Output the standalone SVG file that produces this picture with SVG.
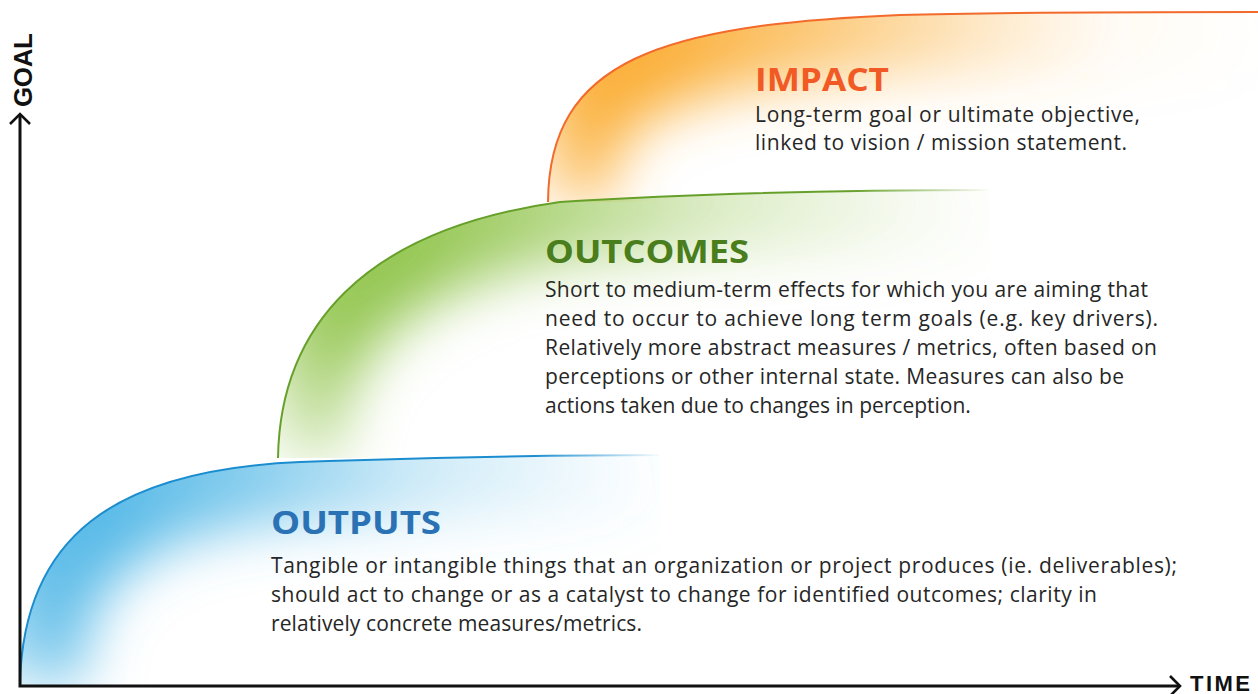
<svg xmlns="http://www.w3.org/2000/svg" width="1258" height="694" viewBox="0 0 1258 694">
  <style>
    .head { font-family: "Open Sans", Lato, "Liberation Sans", sans-serif; font-weight: 700; font-size: 33px; }
    .body { font-family: "Open Sans", Lato, "Liberation Sans", sans-serif; font-size: 21px; fill: #262626; }
    .axis-label { font-family: "Liberation Sans", Arial, sans-serif; font-weight: 700; fill: #111; }
    .axis { fill: none; stroke: #111; stroke-width: 3; }
    .glow { fill: none; stroke-width: 120; filter: url(#soft); }
  </style>
  <defs>
    <filter id="soft" filterUnits="userSpaceOnUse" x="-100" y="-100" width="1458" height="894">
      <feGaussianBlur stdDeviation="28"/>
    </filter>

    <!-- glow strength along each curve: faint at the foot, strongest at the bend, gone at the far end -->
    <linearGradient id="glowBlue" gradientUnits="userSpaceOnUse" x1="20" y1="682" x2="660" y2="455">
      <stop offset="0" stop-color="#56b9e7" stop-opacity="0.35"/>
      <stop offset="0.06" stop-color="#56b9e7" stop-opacity="0.9"/>
      <stop offset="0.2" stop-color="#56b9e7" stop-opacity="1"/>
      <stop offset="0.4" stop-color="#56b9e7" stop-opacity="0.75"/>
      <stop offset="0.65" stop-color="#56b9e7" stop-opacity="0.3"/>
      <stop offset="0.9" stop-color="#56b9e7" stop-opacity="0.08"/>
      <stop offset="1" stop-color="#56b9e7" stop-opacity="0"/>
    </linearGradient>
    <linearGradient id="glowGreen" gradientUnits="userSpaceOnUse" x1="278" y1="458" x2="990" y2="190">
      <stop offset="0" stop-color="#94c651" stop-opacity="0.05"/>
      <stop offset="0.05" stop-color="#94c651" stop-opacity="0.5"/>
      <stop offset="0.12" stop-color="#94c651" stop-opacity="0.95"/>
      <stop offset="0.25" stop-color="#94c651" stop-opacity="1"/>
      <stop offset="0.4" stop-color="#94c651" stop-opacity="0.8"/>
      <stop offset="0.64" stop-color="#94c651" stop-opacity="0.35"/>
      <stop offset="0.9" stop-color="#94c651" stop-opacity="0.08"/>
      <stop offset="1" stop-color="#94c651" stop-opacity="0"/>
    </linearGradient>
    <linearGradient id="glowOrange" gradientUnits="userSpaceOnUse" x1="548" y1="202" x2="1258" y2="12">
      <stop offset="0" stop-color="#fbb03b" stop-opacity="0.1"/>
      <stop offset="0.03" stop-color="#fbb03b" stop-opacity="0.6"/>
      <stop offset="0.08" stop-color="#fbb03b" stop-opacity="1"/>
      <stop offset="0.2" stop-color="#fbb03b" stop-opacity="1"/>
      <stop offset="0.4" stop-color="#fbb03b" stop-opacity="0.7"/>
      <stop offset="0.66" stop-color="#fbb03b" stop-opacity="0.25"/>
      <stop offset="0.8" stop-color="#fbb03b" stop-opacity="0.05"/>
      <stop offset="1" stop-color="#fbb03b" stop-opacity="0"/>
    </linearGradient>

    <!-- curve strokes -->
    <linearGradient id="strokeBlue" gradientUnits="userSpaceOnUse" x1="20" y1="0" x2="662" y2="0">
      <stop offset="0.8" stop-color="#1b8dcf" stop-opacity="1"/>
      <stop offset="1" stop-color="#1b8dcf" stop-opacity="0"/>
    </linearGradient>
    <linearGradient id="strokeGreen" gradientUnits="userSpaceOnUse" x1="278" y1="0" x2="992" y2="0">
      <stop offset="0.8" stop-color="#66a02a" stop-opacity="1"/>
      <stop offset="1" stop-color="#66a02a" stop-opacity="0"/>
    </linearGradient>

    <!-- areas under each curve -->
    <clipPath id="clipOrange">
      <path d="M548,202 C549,60 660,25 900,15 C1000,12 1150,12 1258,12 L1258,202 Z"/>
    </clipPath>
    <clipPath id="clipGreen">
      <path d="M278,458 C280,330 360,230 560,202 C700,193 850,190 990,190 L990,458 Z"/>
    </clipPath>
    <clipPath id="clipBlue">
      <path d="M20,682 C24,540 110,470 300,462 C420,458 560,455 660,455 L660,686 L20,686 Z"/>
    </clipPath>

    <marker id="chevron" viewBox="0 0 13 22" refX="11" refY="11" markerWidth="13" markerHeight="22"
            markerUnits="userSpaceOnUse" orient="auto-start-reverse">
      <path d="M1,1 L11,11 L1,21" fill="none" stroke="#111" stroke-width="2.6"/>
    </marker>
  </defs>

  <rect x="0" y="0" width="1258" height="694" fill="#fff"/>

  <!-- IMPACT -->
  <g id="impact">
    <g clip-path="url(#clipOrange)">
      <path class="glow" d="M548,202 C549,60 660,25 900,15 C1000,12 1150,12 1258,12" stroke="url(#glowOrange)"/>
    </g>
    <path d="M548,202 C549,60 660,25 900,15 C1000,12 1150,12 1258,12"
          fill="none" stroke="#f26a2c" stroke-width="2"/>
    <text class="head" x="755" y="91" fill="#f15a24" textLength="134" lengthAdjust="spacingAndGlyphs">IMPACT</text>
    <text class="body" x="755" y="122" textLength="385">Long-term goal or ultimate objective,</text>
    <text class="body" x="755" y="150" textLength="372">linked to vision / mission statement.</text>
  </g>

  <!-- OUTCOMES -->
  <g id="outcomes">
    <g clip-path="url(#clipGreen)">
      <path class="glow" d="M278,458 C280,330 360,230 560,202 C700,193 850,190 990,190" stroke="url(#glowGreen)"/>
    </g>
    <path d="M278,458 C280,330 360,230 560,202 C700,193 850,190 990,190"
          fill="none" stroke="url(#strokeGreen)" stroke-width="2"/>
    <text class="head" x="545" y="263" fill="#4a7d1b" textLength="204" lengthAdjust="spacingAndGlyphs">OUTCOMES</text>
    <text class="body" x="545" y="297" textLength="603">Short to medium-term effects for which you are aiming that</text>
    <text class="body" x="545" y="326" textLength="613">need to occur to achieve long term goals (e.g. key drivers).</text>
    <text class="body" x="545" y="355" textLength="612">Relatively more abstract measures / metrics, often based on</text>
    <text class="body" x="545" y="384" textLength="579">perceptions or other internal state. Measures can also be</text>
    <text class="body" x="545" y="413">actions taken due to changes in perception.</text>
  </g>

  <!-- OUTPUTS -->
  <g id="outputs">
    <g clip-path="url(#clipBlue)">
      <path class="glow" d="M20,682 C24,540 110,470 300,462 C420,458 560,455 660,455" stroke="url(#glowBlue)"/>
    </g>
    <path d="M20,682 C24,540 110,470 300,462 C420,458 560,455 660,455"
          fill="none" stroke="url(#strokeBlue)" stroke-width="2"/>
    <text class="head" x="271" y="534" fill="#2b72b5" textLength="170" lengthAdjust="spacingAndGlyphs">OUTPUTS</text>
    <text class="body" x="271" y="573" textLength="906">Tangible or intangible things that an organization or project produces (ie. deliverables);</text>
    <text class="body" x="271" y="602" textLength="826">should act to change or as a catalyst to change for identified outcomes; clarity in</text>
    <text class="body" x="271" y="631" textLength="371">relatively concrete measures/metrics.</text>
  </g>

  <!-- axes -->
  <g id="connectors">
    <path class="axis" d="M20,114 L20,686 L1180,686" marker-start="url(#chevron)" marker-end="url(#chevron)"/>
  </g>
  <g id="axis-labels">
    <text class="axis-label" font-size="26" transform="translate(32,107) rotate(-90)" textLength="74">GOAL</text>
    <text class="axis-label" font-size="22" x="1190" y="691" textLength="60">TIME</text>
  </g>
</svg>
